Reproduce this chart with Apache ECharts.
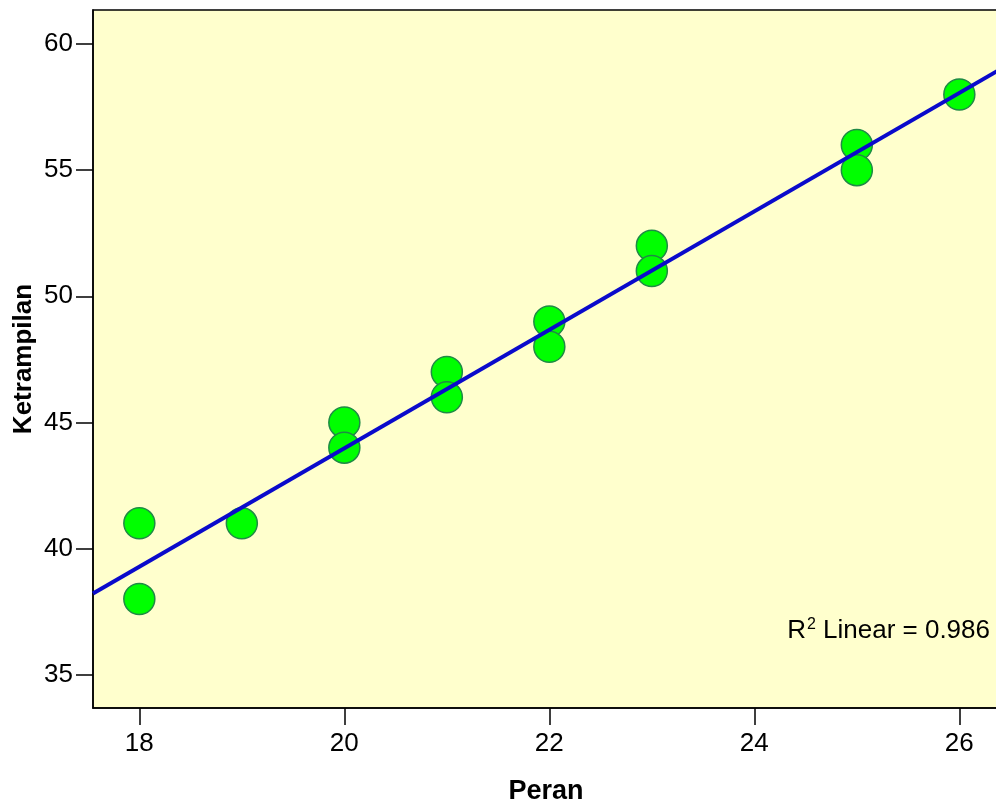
<!DOCTYPE html>
<html>
<head>
<meta charset="utf-8">
<script src="https://cdn.jsdelivr.net/npm/echarts@6/dist/echarts.min.js"></script>
<style>
html,body{margin:0;padding:0;background:#fff;}
#chart{width:996px;height:800px;}
</style>
</head>
<body>
<div id="chart"></div>
<script>
// Data
const peran = [18, 18, 19, 20, 20, 21, 21, 22, 22, 23, 23, 25, 25, 26];
const ketrampilan = [41, 38, 41, 45, 44, 47, 46, 49, 48, 52, 51, 56, 55, 58];
const fitLineX = [17.548, 26.387];
const fitLineY = [38.22, 58.97];
const xTicks = [18, 20, 22, 24, 26];
const yTicks = [35, 40, 45, 50, 55, 60];
const r2Label = '0.986';

const points = peran.map((x, i) => [x, ketrampilan[i]]);
const fitLine = fitLineX.map((x, i) => [x, fitLineY[i]]);

const FONT = '"Liberation Sans", Arial, sans-serif';
const chart = echarts.init(document.getElementById('chart'), null, {renderer: 'canvas'});
chart.setOption({
  animation: false,
  backgroundColor: '#ffffff',
  grid: {
    left: 93, top: 10, right: -3, bottom: 92,
    outerBoundsMode: 'none', containLabel: false,
    show: true, backgroundColor: '#ffffcd', borderColor: '#000', borderWidth: 1.5
  },
  xAxis: {
    type: 'value', min: 17.548, max: 26.387,
    name: 'Peran', nameLocation: 'middle', nameGap: 70, nameMoveOverlap: false,
    nameTextStyle: {fontFamily: FONT, fontSize: 27, fontWeight: 'bold', color: '#000'},
    axisLine: {show: true, onZero: false, lineStyle: {color: '#000', width: 1.5}},
    axisTick: {show: true, length: 17, customValues: xTicks, lineStyle: {color: '#000', width: 1.5}},
    axisLabel: {customValues: xTicks, margin: 23, fontFamily: FONT, fontSize: 26, color: '#000'},
    splitLine: {show: false}
  },
  yAxis: {
    type: 'value', min: 33.68, max: 61.35,
    name: 'Ketrampilan', nameLocation: 'middle', nameGap: 56, nameMoveOverlap: false,
    nameTextStyle: {fontFamily: FONT, fontSize: 26, fontWeight: 'bold', color: '#000'},
    axisLine: {show: true, onZero: false, lineStyle: {color: '#000', width: 1.5}},
    axisTick: {show: true, length: 17, customValues: yTicks, lineStyle: {color: '#000', width: 1.5}},
    axisLabel: {customValues: yTicks, margin: 20, fontFamily: FONT, fontSize: 26, color: '#000'},
    splitLine: {show: false}
  },
  series: [
    {
      type: 'scatter', data: points, symbol: 'circle', symbolSize: 31,
      itemStyle: {color: '#00ff00', borderColor: '#1f8a45', borderWidth: 1.5, opacity: 1},
      z: 2
    },
    {
      type: 'line', data: fitLine, symbol: 'none', showSymbol: false,
      lineStyle: {color: '#0a0acb', width: 4},
      z: 3
    }
  ],
  graphic: [{
    type: 'text', x: 990, y: 631, z: 10,
    style: {
      text: '{r|R}{s|2}{r| Linear = ' + r2Label + '}',
      align: 'right', verticalAlign: 'middle',
      rich: {
        r: {fontFamily: FONT, fontSize: 26, fill: '#000', color: '#000'},
        s: {fontFamily: FONT, fontSize: 16, fill: '#000', color: '#000', verticalAlign: 'top', padding: [0, 0, 12, 1]}
      }
    }
  }]
});
</script>
</body>
</html>
